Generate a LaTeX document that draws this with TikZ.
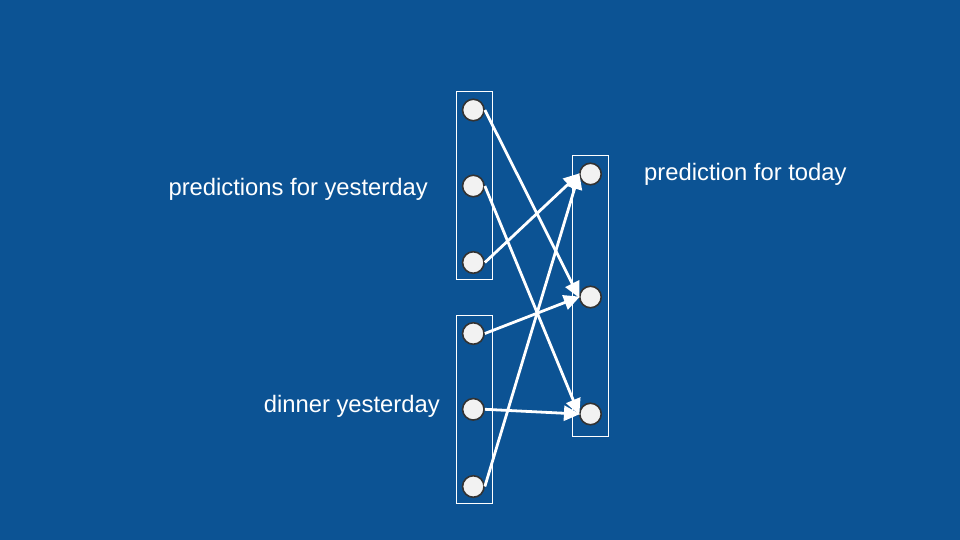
\documentclass[tikz,border=0pt]{standalone}
\usepackage{fontspec}
\setmainfont{Liberation Sans}
\usetikzlibrary{arrows.meta}
\definecolor{bg}{RGB}{12,83,148}
\definecolor{cfill}{RGB}{242,242,242}
\definecolor{cline}{RGB}{51,51,51}
\tikzset{
  unit/.style={circle,draw=cline,line width=1.6pt,fill=cfill,minimum size=21.5pt,inner sep=0pt},
  grp/.style={draw=white,line width=0.8pt},
  conn/.style={draw=white,line width=2.8pt,-{Triangle[length=16pt,width=15pt]},shorten >=-1pt},
  lbl/.style={text=white,font=\fontsize{23.8}{28}\selectfont,inner sep=0pt}
}
\begin{document}
\begin{tikzpicture}[x=1pt,y=-1pt]
\fill[bg] (0,0) rectangle (960,540);
\useasboundingbox (0,0) rectangle (960,540);
\draw[grp] (456.3,91.3) rectangle (492.3,279.3);
\draw[grp] (456.3,315) rectangle (492.3,503);
\draw[grp] (572.3,155.3) rectangle (608.3,436);
\node[unit] (l1) at (473.3,110) {};
\node[unit] (l2) at (473.3,186) {};
\node[unit] (l3) at (473.3,262.5) {};
\node[unit] (l4) at (473.3,333.5) {};
\node[unit] (l5) at (473.3,409.3) {};
\node[unit] (l6) at (473.3,486.5) {};
\node[unit] (r1) at (590.5,174) {};
\node[unit] (r2) at (590.5,297) {};
\node[unit] (r3) at (590.5,414) {};
\draw[conn] (l1.east) -- (r2.west);
\draw[conn] (l2.east) -- (r3.west);
\draw[conn] (l3.east) -- (r1.west);
\draw[conn] (l4.east) -- (r2.west);
\draw[conn] (l5.east) -- (r3.west);
\draw[conn] (l6.east) -- (r1.west);
\node[lbl,anchor=east] (t1) at (428,189) {predictions for yesterday};
\node[lbl,anchor=east] (t2) at (440,406) {dinner yesterday};
\node[lbl,anchor=west] (t3) at (644,174) {prediction for today};
\end{tikzpicture}
\end{document}
